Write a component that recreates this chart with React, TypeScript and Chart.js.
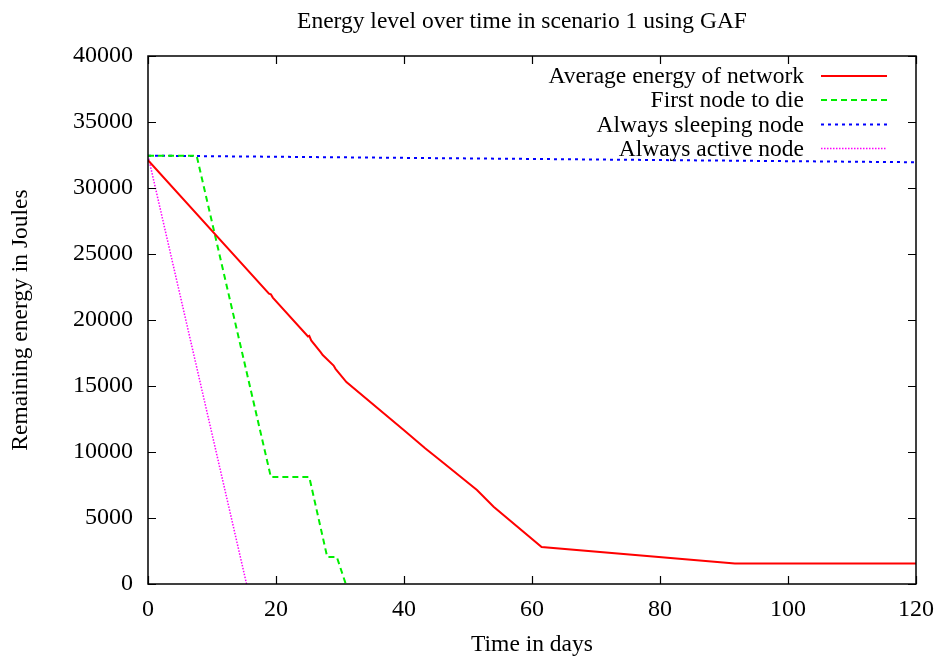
import React, { useEffect, useRef } from "react";
import { Chart, registerables } from "chart.js";

Chart.register(...registerables);

const TITLE = "Energy level over time in scenario 1 using GAF";
const X_TITLE = "Time in days";
const Y_TITLE = "Remaining energy in Joules";

const avgX = [0, 18.9, 19.2, 19.5, 25.0, 25.2, 25.5, 27.0, 27.3, 29.0, 29.3, 31.0, 40, 43.3, 45.6, 51.4, 54, 61.5, 91.7, 120];
const avgY = [32100, 22000, 21950, 21700, 18750, 18800, 18450, 17550, 17350, 16550, 16300, 15300, 11650, 10280, 9390, 7120, 5860, 2800, 1550, 1550];

const firstX = [0, 7.6, 19.2, 25.2, 28.0, 29.5, 30.9];
const firstY = [32450, 32450, 8100, 8100, 2050, 2050, 0];

const sleepX = [0, 120];
const sleepY = [32450, 31950];

const activeX = [0, 15.4];
const activeY = [32450, 0];

const xTicks = [0, 20, 40, 60, 80, 100, 120];
const yTicks = [0, 5000, 10000, 15000, 20000, 25000, 30000, 35000, 40000];

const FONT = "'Liberation Serif', 'Times New Roman', serif";

const series = [
  { label: "Average energy of network", xs: avgX, ys: avgY, color: "#ff0000", width: 2, dash: [] as number[] },
  { label: "First node to die", xs: firstX, ys: firstY, color: "#00ee00", width: 2, dash: [6, 4] },
  { label: "Always sleeping node", xs: sleepX, ys: sleepY, color: "#0000ff", width: 2, dash: [3, 4] },
  { label: "Always active node", xs: activeX, ys: activeY, color: "#ff00ff", width: 1.5, dash: [1.5, 1.5] },
];

const decorPlugin = {
  id: "decor",
  afterDraw(chart: any) {
    const ctx = chart.ctx as CanvasRenderingContext2D;
    const { left, right, top, bottom } = chart.chartArea;
    const xs = chart.scales.x;
    const ys = chart.scales.y;
    ctx.save();
    ctx.strokeStyle = "#000";
    ctx.lineWidth = 1.5;
    ctx.setLineDash([]);
    ctx.strokeRect(left, top, right - left, bottom - top);
    const tl = 8;
    ctx.lineWidth = 1.2;
    ctx.beginPath();
    xTicks.forEach((v) => {
      const px = Math.round(xs.getPixelForValue(v)) + 0.5;
      ctx.moveTo(px, bottom);
      ctx.lineTo(px, bottom - tl);
      ctx.moveTo(px, top);
      ctx.lineTo(px, top + tl);
    });
    yTicks.forEach((v) => {
      const py = Math.round(ys.getPixelForValue(v)) + 0.5;
      ctx.moveTo(left, py);
      ctx.lineTo(left + tl, py);
      ctx.moveTo(right, py);
      ctx.lineTo(right - tl, py);
    });
    ctx.stroke();
    ctx.fillStyle = "#000";
    ctx.font = `23.5px ${FONT}`;
    ctx.textAlign = "center";
    ctx.textBaseline = "alphabetic";
    ctx.fillText(TITLE, 522, 28);
    const rowY = [76, 100, 124.5, 148.5];
    series.forEach((s, i) => {
      ctx.fillStyle = "#000";
      ctx.textAlign = "right";
      ctx.textBaseline = "middle";
      ctx.font = `23.5px ${FONT}`;
      ctx.fillText(s.label, 804, rowY[i] + 1);
      ctx.strokeStyle = s.color;
      ctx.lineWidth = s.width;
      ctx.setLineDash(s.dash);
      ctx.beginPath();
      ctx.moveTo(821, rowY[i]);
      ctx.lineTo(887, rowY[i]);
      ctx.stroke();
    });
    ctx.restore();
  },
};

export default function App() {
  const ref = useRef<HTMLCanvasElement>(null);
  useEffect(() => {
    document.body.style.margin = "0";
    const canvas = ref.current!;
    const chart = new Chart(canvas, {
      type: "line",
      data: {
        datasets: series.map((s) => ({
          label: s.label,
          data: s.xs.map((x, i) => ({ x, y: s.ys[i] })),
          borderColor: s.color,
          borderWidth: s.width,
          borderDash: s.dash,
          pointRadius: 0,
          fill: false,
          tension: 0,
        })),
      },
      options: {
        animation: false,
        responsive: false,
        devicePixelRatio: 1,
        layout: { padding: { top: 56, right: 22, left: 0, bottom: 0 } },
        plugins: {
          legend: { display: false },
          title: { display: false },
          tooltip: { enabled: false },
        },
        scales: {
          x: {
            type: "linear",
            min: 0,
            max: 120,
            afterFit: (s: any) => {
              s.height = 73;
              s.paddingLeft = 0;
              s.paddingRight = 0;
            },
            afterBuildTicks: (s: any) => {
              s.ticks = xTicks.map((v) => ({ value: v }));
            },
            grid: { display: false, drawTicks: false },
            border: { display: false },
            ticks: {
              padding: 11,
              color: "#000",
              font: { family: FONT, size: 24 },
              maxRotation: 0,
            },
            title: {
              display: true,
              text: X_TITLE,
              color: "#000",
              font: { family: FONT, size: 23.5, lineHeight: 1.0 },
              padding: { top: 0, bottom: 0 },
            },
          },
          y: {
            type: "linear",
            min: 0,
            max: 40000,
            afterFit: (s: any) => {
              s.width = 148;
              s.paddingTop = 0;
              s.paddingBottom = 0;
            },
            afterBuildTicks: (s: any) => {
              s.ticks = yTicks.map((v) => ({ value: v }));
            },
            grid: { display: false, drawTicks: false },
            border: { display: false },
            ticks: {
              padding: 15,
              color: "#000",
              font: { family: FONT, size: 24 },
              callback: (v: any) => String(v),
            },
            title: {
              display: true,
              text: Y_TITLE,
              color: "#000",
              font: { family: FONT, size: 23.5 },
              padding: { top: 7, bottom: 0 },
            },
          },
        },
      },
      plugins: [decorPlugin],
    } as any);
    return () => chart.destroy();
  }, []);
  return (
    <div style={{ position: "fixed", left: 0, top: 0, width: 938, height: 657, background: "#fff" }}>
      <canvas ref={ref} width={938} height={657} style={{ width: 938, height: 657, display: "block" }} />
    </div>
  );
}
